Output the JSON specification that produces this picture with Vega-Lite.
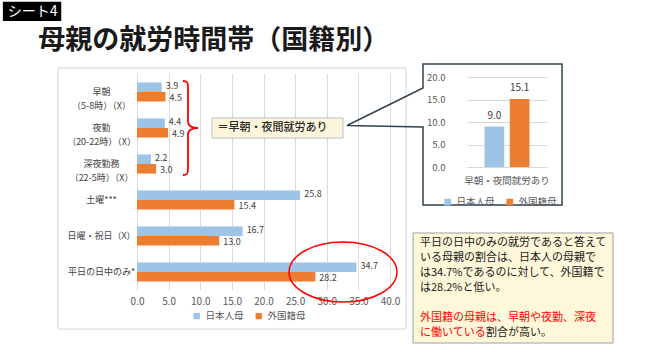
{
  "$schema": "https://vega.github.io/schema/vega-lite/v6.json",
  "width": 253,
  "height": 216,
  "autosize": {"type": "none"},
  "padding": {"left": 137, "top": 74, "right": 280, "bottom": 62},
  "background": "white",
  "config": {"font": "Noto Sans CJK JP", "view": {"stroke": null}},
  "datasets": {
    "main": [
      {"item": "早朝|（5-8時）（X）", "series": "日本人母", "value": 3.9},
      {"item": "早朝|（5-8時）（X）", "series": "外国籍母", "value": 4.5},
      {"item": "夜勤|（20-22時）（X）", "series": "日本人母", "value": 4.4},
      {"item": "夜勤|（20-22時）（X）", "series": "外国籍母", "value": 4.9},
      {"item": "深夜勤務|（22-5時）（X）", "series": "日本人母", "value": 2.2},
      {"item": "深夜勤務|（22-5時）（X）", "series": "外国籍母", "value": 3.0},
      {"item": "土曜***", "series": "日本人母", "value": 25.8},
      {"item": "土曜***", "series": "外国籍母", "value": 15.4},
      {"item": "日曜・祝日（X）", "series": "日本人母", "value": 16.7},
      {"item": "日曜・祝日（X）", "series": "外国籍母", "value": 13.0},
      {"item": "平日の日中のみ*", "series": "日本人母", "value": 34.7},
      {"item": "平日の日中のみ*", "series": "外国籍母", "value": 28.2}
    ],
    "inset": [
      {"group": "早朝・夜間就労あり", "series": "日本人母", "value": 9.0},
      {"group": "早朝・夜間就労あり", "series": "外国籍母", "value": 15.1}
    ],
    "note": [
      {"line": 0, "seg": 1, "tone": "normal", "text": "平日の日中のみの就労であると答えて"},
      {"line": 1, "seg": 1, "tone": "normal", "text": "いる母親の割合は、日本人の母親で"},
      {"line": 2, "seg": 1, "tone": "normal", "text": "は34.7%であるのに対して、外国籍で"},
      {"line": 3, "seg": 1, "tone": "normal", "text": "は28.2%と低い。"},
      {"line": 5, "seg": 1, "tone": "highlight", "text": "外国籍の母親は、早朝や夜勤、深夜"},
      {"line": 6, "seg": 1, "tone": "highlight", "text": "に働いている"},
      {"line": 6, "seg": 2, "tone": "normal", "text": "割合が高い。"}
    ]
  },
  "layer": [
    {
      "layer": [
        {
          "data": {"name": "main"},
          "mark": {"type": "bar"},
          "encoding": {
            "x": {"field": "value", "type": "quantitative", "scale": {"domain": [0, 40], "nice": false},
              "axis": {"values": [0, 5, 10, 15, 20, 25, 30, 35, 40], "tickCount": 9, "format": ".1f", "grid": true, "gridColor": "#d9d9d9", "domain": false, "ticks": false, "tickSize": 0, "labelPadding": 6, "labelFontSize": 10, "labelColor": "#595959", "labelOverlap": false, "labelFlush": false, "title": null}},
            "y": {"field": "item", "type": "nominal",
              "scale": {"domain": ["早朝|（5-8時）（X）", "夜勤|（20-22時）（X）", "深夜勤務|（22-5時）（X）", "土曜***", "日曜・祝日（X）", "平日の日中のみ*"], "paddingInner": 0.47, "paddingOuter": 0.235},
              "axis": {"labelExpr": "split(datum.label, '|')", "labelAlign": "center", "labelPadding": 36, "ticks": false, "tickSize": 0, "domain": false, "grid": false, "labelFontSize": 9, "labelColor": "#404040", "labelLineHeight": 14, "labelLimit": 200, "title": null}},
            "yOffset": {"field": "series", "type": "nominal", "scale": {"domain": ["日本人母", "外国籍母"]}},
            "color": {"field": "series", "type": "nominal", "scale": {"domain": ["日本人母", "外国籍母"], "range": ["#9dc3e6", "#ed7d31"]},
              "legend": {"orient": "none", "legendX": 55, "legendY": 237, "direction": "horizontal", "title": null, "symbolType": "square", "symbolSize": 40, "labelFontSize": 9.5, "labelColor": "#595959", "columnPadding": 10, "symbolStrokeWidth": 0}}
          }
        },
        {
          "data": {"name": "main"},
          "transform": [{"filter": "datum.series == '日本人母'"}],
          "mark": {"type": "text", "align": "left", "baseline": "middle", "dx": 4, "dy": -1.2, "fontSize": 9, "color": "#404040"},
          "encoding": {
            "x": {"field": "value", "type": "quantitative"},
            "y": {"field": "item", "type": "nominal"},
            "yOffset": {"field": "series", "type": "nominal"},
            "text": {"field": "value", "type": "quantitative", "format": ".1f"}
          }
        },
        {
          "data": {"name": "main"},
          "transform": [{"filter": "datum.series == '外国籍母'"}],
          "mark": {"type": "text", "align": "left", "baseline": "middle", "dx": 4, "dy": 1.2, "fontSize": 9, "color": "#404040"},
          "encoding": {
            "x": {"field": "value", "type": "quantitative"},
            "y": {"field": "item", "type": "nominal"},
            "yOffset": {"field": "series", "type": "nominal"},
            "text": {"field": "value", "type": "quantitative", "format": ".1f"}
          }
        },
        {
          "data": {"values": [{"frame": "main"}]},
          "mark": {"type": "point", "shape": "M -1 -0.7586 L 1 -0.7586 L 1 0.7414 L -1 0.7414 Z", "size": 121104, "filled": false, "stroke": "#d4d4d4", "strokeWidth": 1, "opacity": 1},
          "encoding": {
            "x": {"datum": 15.02, "type": "quantitative"},
            "y": {"datum": "土曜***", "type": "nominal"}
          }
        },
        {
          "data": {"values": [{"note": "brace"}]},
          "mark": {"type": "point", "shape": "M -0.106 -1 C -0.02 -1 0 -0.97 0 -0.88 L 0 -0.14 C 0 -0.04 0.1 0 0.213 0 C 0.1 0 0 0.04 0 0.14 L 0 0.88 C 0 0.97 -0.02 1 -0.106 1", "size": 8836, "filled": false, "stroke": "#ff0000", "strokeWidth": 1.8, "opacity": 1},
          "encoding": {
            "x": {"datum": 8.06, "type": "quantitative"},
            "y": {"datum": "夜勤|（20-22時）（X）", "type": "nominal"}
          }
        },
        {
          "data": {"values": [{"note": "label box"}]},
          "mark": {"type": "point", "shape": "M -1 -0.153 L 1 -0.153 L 1 0.153 L -1 0.153 Z", "size": 17161, "filled": true, "fill": "#fdf6dc", "stroke": "#bfbfbf", "strokeWidth": 1, "opacity": 1},
          "encoding": {
            "x": {"datum": 22.21, "type": "quantitative"},
            "y": {"datum": "夜勤|（20-22時）（X）", "type": "nominal"}
          }
        },
        {
          "data": {"values": [{"text": "＝早朝・夜間就労あり"}]},
          "mark": {"type": "text", "align": "center", "baseline": "middle", "dx": -5, "fontSize": 11, "fontWeight": 500, "color": "#262626"},
          "encoding": {
            "x": {"datum": 22.21, "type": "quantitative"},
            "y": {"datum": "夜勤|（20-22時）（X）", "type": "nominal"},
            "text": {"field": "text", "type": "nominal"}
          }
        },
        {
          "data": {"values": [{"note": "ellipse"}]},
          "mark": {"type": "point", "shape": "M 1 0 C 1 0.307 0.552 0.556 0 0.556 C -0.552 0.556 -1 0.307 -1 0 C -1 -0.307 -0.552 -0.556 0 -0.556 C 0.552 -0.556 1 -0.307 1 0 Z", "size": 11664, "filled": false, "stroke": "#ff0000", "strokeWidth": 1.5, "opacity": 1},
          "encoding": {
            "x": {"datum": 32.57, "type": "quantitative"},
            "y": {"datum": "平日の日中のみ*", "type": "nominal"}
          }
        }
      ]
    },
    {
      "layer": [
        {
          "data": {"name": "inset"},
          "mark": {"type": "bar"},
          "encoding": {
            "x": {"field": "group", "type": "nominal", "scale": {"domain": ["早朝・夜間就労あり"], "range": [330, 410], "paddingInner": 0, "paddingOuter": 0.39},
              "axis": {"orient": "bottom", "offset": -123, "domain": false, "ticks": false, "tickSize": 0, "labelPadding": 8, "labelFontSize": 9.5, "labelColor": "#595959", "labelAngle": 0, "labelAlign": "center", "labelBaseline": "top", "labelFlush": false, "labelBound": false, "title": null}},
            "xOffset": {"field": "series", "type": "nominal", "scale": {"domain": ["日本人母", "外国籍母"], "paddingInner": 0.22}},
            "y": {"field": "value", "type": "quantitative", "scale": {"domain": [0, 20], "range": [93, 3], "nice": false},
              "axis": {"orient": "left", "offset": -330, "values": [0, 5, 10, 15, 20], "format": ".1f", "grid": true, "gridColor": "#d9d9d9", "domain": false, "ticks": false, "tickSize": 0, "labelPadding": 22, "labelFontSize": 9.5, "labelColor": "#595959", "labelOverlap": false, "title": null}},
            "color": {"field": "series", "type": "nominal", "scale": {"domain": ["日本人母", "外国籍母"], "range": ["#9dc3e6", "#ed7d31"]},
              "legend": {"orient": "none", "legendX": 306, "legendY": 123, "direction": "horizontal", "title": null, "symbolType": "square", "symbolSize": 45, "labelFontSize": 9.5, "labelColor": "#595959", "columnPadding": 10, "symbolStrokeWidth": 0}}
          }
        },
        {
          "data": {"name": "inset"},
          "mark": {"type": "text", "align": "center", "baseline": "bottom", "dy": -6, "fontSize": 10, "color": "#404040"},
          "encoding": {
            "x": {"field": "group", "type": "nominal"},
            "xOffset": {"field": "series", "type": "nominal"},
            "y": {"field": "value", "type": "quantitative"},
            "text": {"field": "value", "type": "quantitative", "format": ".1f"}
          }
        },
        {
          "data": {"values": [{"frame": "inset"}]},
          "mark": {"type": "point", "shape": "M -0.525 -0.2125 L -0.525 -0.3625 L 0.344 -0.3625 L 0.344 0.519 L -0.525 0.519 L -0.525 0.03125 L -1 0.0219 Z", "size": 102400, "filled": false, "stroke": "#2e4450", "strokeWidth": 1.5, "opacity": 1},
          "encoding": {
            "x": {"datum": "早朝・夜間就労あり", "type": "nominal"},
            "y": {"datum": 10, "type": "quantitative"}
          }
        }
      ]
    },
    {
      "layer": [
        {
          "data": {"values": [{"box": "shadow"}]},
          "mark": {"type": "rect", "fill": "#c8c8c8", "xOffset": 2, "yOffset": 2},
          "encoding": {
            "x": {"datum": 0, "type": "quantitative", "scale": {"domain": [0, 1], "range": [276, 476]}, "axis": null},
            "x2": {"datum": 1},
            "y": {"datum": -0.667, "type": "quantitative", "scale": {"domain": [0, 6], "range": [169, 259]}, "axis": null},
            "y2": {"datum": 6.667}
          }
        },
        {
          "data": {"values": [{"box": "note"}]},
          "mark": {"type": "rect", "fill": "#fff7d9", "stroke": "#a0a0a0", "strokeWidth": 1},
          "encoding": {
            "x": {"datum": 0, "type": "quantitative"},
            "x2": {"datum": 1},
            "y": {"datum": -0.667, "type": "quantitative"},
            "y2": {"datum": 6.667}
          }
        },
        {
          "data": {"name": "note"},
          "transform": [{"filter": "datum.seg == 1"}],
          "mark": {"type": "text", "align": "left", "baseline": "middle", "dx": 7, "fontSize": 11},
          "encoding": {
            "x": {"datum": 0, "type": "quantitative"},
            "y": {"field": "line", "type": "quantitative"},
            "text": {"field": "text", "type": "nominal"},
            "color": {"field": "tone", "type": "nominal", "scale": {"domain": ["normal", "highlight"], "range": ["#1a1a1a", "#ff0000"]}, "legend": null}
          }
        },
        {
          "data": {"name": "note"},
          "transform": [{"filter": "datum.seg == 2"}],
          "mark": {"type": "text", "align": "left", "baseline": "middle", "dx": 73, "fontSize": 11},
          "encoding": {
            "x": {"datum": 0, "type": "quantitative"},
            "y": {"field": "line", "type": "quantitative"},
            "text": {"field": "text", "type": "nominal"},
            "color": {"field": "tone", "type": "nominal", "legend": null}
          }
        }
      ]
    },
    {
      "layer": [
        {
          "data": {"values": [{"tag": "sheet"}]},
          "mark": {"type": "rect", "fill": "#000000"},
          "encoding": {
            "x": {"datum": 3, "type": "quantitative", "scale": {"domain": [0, 670], "range": [-137, 533]}, "axis": null},
            "x2": {"datum": 64},
            "y": {"datum": 2, "type": "quantitative", "scale": {"domain": [0, 352], "range": [-74, 278]}, "axis": null},
            "y2": {"datum": 24}
          }
        },
        {
          "data": {"values": [{"text": "シート4"}]},
          "mark": {"type": "text", "align": "left", "baseline": "middle", "fontSize": 14, "color": "#ffffff"},
          "encoding": {
            "x": {"datum": 8, "type": "quantitative"},
            "y": {"datum": 13.5, "type": "quantitative"},
            "text": {"field": "text", "type": "nominal"}
          }
        },
        {
          "data": {"values": [{"text": "母親の就労時間帯（国籍別）"}]},
          "mark": {"type": "text", "align": "left", "baseline": "middle", "fontSize": 27, "fontWeight": "bold", "color": "#1a1a1a"},
          "encoding": {
            "x": {"datum": 40, "type": "quantitative"},
            "y": {"datum": 47, "type": "quantitative"},
            "text": {"field": "text", "type": "nominal"}
          }
        }
      ]
    }
  ],
  "resolve": {"scale": {"x": "independent", "y": "independent", "color": "independent"}}
}
